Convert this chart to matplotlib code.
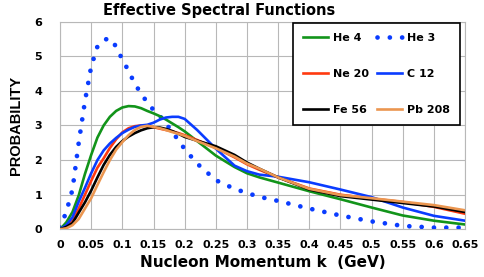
import matplotlib
matplotlib.use("Agg")
import matplotlib.pyplot as plt

# nucleon momentum grid (GeV) and spectral function values
k = [0.0, 0.01, 0.02, 0.03, 0.04, 0.05, 0.06, 0.07, 0.08, 0.09, 0.10, 0.11, 0.12,
     0.13, 0.14, 0.15, 0.16, 0.17, 0.18, 0.19, 0.20, 0.22, 0.25, 0.28, 0.30, 0.32,
     0.35, 0.40, 0.45, 0.50, 0.55, 0.60, 0.65]

he3 = [0.05, 0.5, 1.15, 2.5, 3.7, 4.7, 5.28, 5.47, 5.52, 5.28, 4.9, 4.58, 4.2,
       3.93, 3.66, 3.45, 3.28, 3.05, 2.82, 2.57, 2.32, 1.9, 1.42, 1.17, 1.05, 0.94,
       0.82, 0.6, 0.40, 0.23, 0.1, 0.05, 0.05]
he4 = [0.0, 0.2, 0.5, 0.98, 1.6, 2.15, 2.65, 3.0, 3.25, 3.42, 3.52, 3.56, 3.55,
       3.5, 3.42, 3.35, 3.27, 3.17, 3.06, 2.95, 2.83, 2.55, 2.13, 1.8, 1.62, 1.5,
       1.35, 1.1, 0.87, 0.63, 0.40, 0.25, 0.14]
c12 = [0.0, 0.12, 0.35, 0.8, 1.2, 1.62, 2.0, 2.28, 2.48, 2.64, 2.78, 2.88, 2.96,
       3.0, 3.02, 3.08, 3.17, 3.23, 3.25, 3.25, 3.19, 2.87, 2.33, 1.84, 1.68, 1.58,
       1.52, 1.36, 1.15, 0.93, 0.63, 0.39, 0.25]
ne20 = [0.0, 0.08, 0.25, 0.6, 1.0, 1.4, 1.78, 2.05, 2.35, 2.6, 2.8, 2.92, 2.98,
        3.0, 2.98, 2.95, 2.91, 2.87, 2.83, 2.78, 2.72, 2.58, 2.35, 2.08, 1.88, 1.72,
        1.5, 1.18, 1.0, 0.89, 0.79, 0.65, 0.45]
fe56 = [0.0, 0.07, 0.18, 0.48, 0.78, 1.12, 1.5, 1.86, 2.15, 2.38, 2.55, 2.68, 2.78,
        2.86, 2.92, 2.95, 2.94, 2.9, 2.84, 2.76, 2.67, 2.56, 2.4, 2.15, 1.93, 1.75,
        1.5, 1.15, 0.96, 0.86, 0.76, 0.66, 0.5]
pb208 = [0.0, 0.03, 0.12, 0.3, 0.6, 0.9, 1.28, 1.65, 2.0, 2.3, 2.52, 2.72, 2.87,
         2.96, 2.99, 2.96, 2.92, 2.87, 2.81, 2.76, 2.7, 2.55, 2.34, 2.1, 1.9, 1.75,
         1.5, 1.17, 0.99, 0.9, 0.8, 0.7, 0.55]

xticks = [0, 0.05, 0.1, 0.15, 0.2, 0.25, 0.3, 0.35, 0.4, 0.45, 0.5, 0.55, 0.6, 0.65]
xticklabels = ["0", "0.05", "0.1", "0.15", "0.2", "0.25", "0.3", "0.35", "0.4",
               "0.45", "0.5", "0.55", "0.6", "0.65"]
yticks = [0, 1, 2, 3, 4, 5, 6]

fig = plt.figure(figsize=(4.84, 2.77), dpi=100)
ax = fig.add_axes([0.124, 0.172, 0.837, 0.750])

lw = 1.9
l_he3, = ax.plot(k, he3, color="#0a3cff", lw=3.4, ls=(0, (0.01, 2.6)),
                 dash_capstyle="round", label="He 3", zorder=3)
l_he4, = ax.plot(k, he4, color="#12941a", lw=lw, label="He 4", zorder=3)
l_ne, = ax.plot(k, ne20, color="#ff3a10", lw=lw, label="Ne 20", zorder=3)
l_c, = ax.plot(k, c12, color="#0a3cff", lw=lw, label="C 12", zorder=3)
l_fe, = ax.plot(k, fe56, color="black", lw=lw, label="Fe 56", zorder=3)
l_pb, = ax.plot(k, pb208, color="#eb9650", lw=lw, label="Pb 208", zorder=3)

ax.set_xlim(0, 0.65)
ax.set_ylim(0, 6)
ax.set_xticks(xticks)
ax.set_xticklabels(xticklabels)
ax.set_yticks(yticks)
ax.tick_params(length=0, labelsize=8)
ax.tick_params(axis="x", pad=8)
ax.tick_params(axis="y", pad=13)
for t in ax.get_xticklabels() + ax.get_yticklabels():
    t.set_fontweight("bold")
ax.grid(True, color="#b8b8b8", lw=0.8, zorder=0)
ax.set_axisbelow(True)
for s in ax.spines.values():
    s.set_color("#b8b8b8")
    s.set_linewidth(0.8)

ax.set_xlabel("Nucleon Momentum k  (GeV)", fontsize=11, fontweight="bold", labelpad=3)
ax.set_ylabel("PROBABILITY", fontsize=10.5, fontweight="bold",
              family="Liberation Sans", labelpad=8)
fig.text(0.452, 0.962, "Effective Spectral Functions", fontsize=10.5,
         fontweight="bold", ha="center", va="center")

# legend filled column-wise: order handles so rows read He4/He3, Ne20/C12, Fe56/Pb208
handles = [l_he4, l_ne, l_fe, l_he3, l_c, l_pb]
leg = ax.legend(handles=handles, labels=[h.get_label() for h in handles], ncol=2,
                loc="upper right", bbox_to_anchor=(0.988, 0.994),
                prop={"weight": "bold", "size": 8}, frameon=True, fancybox=False,
                framealpha=1, edgecolor="black", labelspacing=2.35,
                handlelength=2.2, handletextpad=0.5, columnspacing=0.7,
                borderpad=0.9, borderaxespad=0)
leg.get_frame().set_linewidth(1.2)

fig.savefig("out.png", dpi=100)
